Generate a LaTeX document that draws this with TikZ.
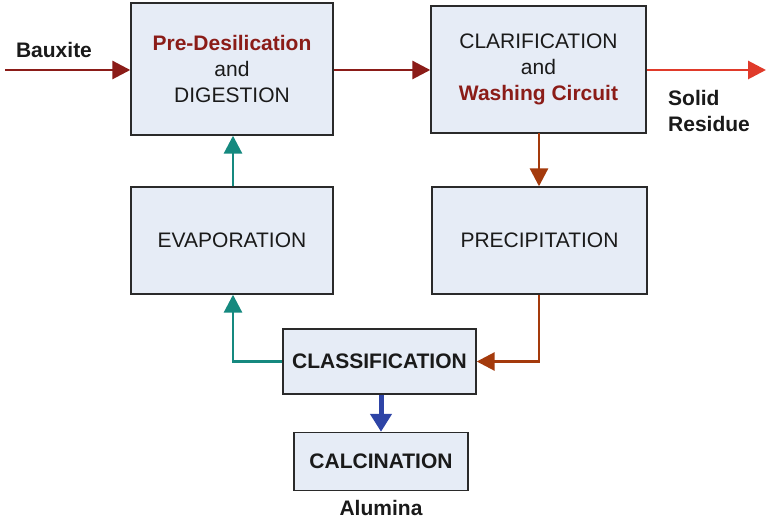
\documentclass[tikz,border=0pt]{standalone}
\usepackage{fontspec}
\setmainfont{Liberation Sans}
\usetikzlibrary{arrows.meta}

\definecolor{boxfill}{HTML}{E6ECF6}
\definecolor{boxline}{HTML}{2A2A2A}
\definecolor{txt}{HTML}{1A1A1A}
\definecolor{darkred}{HTML}{8B1C18}
\definecolor{brightred}{HTML}{E03A2A}
\definecolor{teal}{HTML}{15897F}
\definecolor{rust}{HTML}{A43A0C}
\definecolor{royal}{HTML}{2E44A6}

\tikzset{
  stage/.style={draw=boxline, line width=1.4pt, fill=boxfill, rectangle,
    inner sep=0pt, align=center, text=txt,
    font=\fontsize{21}{26}\selectfont},
  label/.style={text=txt, align=left, inner sep=0pt,
    font=\fontsize{21}{26}\selectfont\bfseries},
  flow/.style={line width=2.9pt, -{Triangle[length=18pt,width=18pt]}}
}

\begin{document}
\begin{tikzpicture}[x=1pt, y=-1pt]
  \useasboundingbox (0,0) rectangle (766,521);

  % process stages
  \node[stage, minimum width=202pt, minimum height=132pt] (dig) at (232,69)
    {{\bfseries\color{darkred}Pre-Desilication}\\and\\DIGESTION};
  \node[stage, minimum width=215pt, minimum height=127pt] (clar) at (538.5,69.5)
    {CLARIFICATION\\and\\{\bfseries\color{darkred}Washing Circuit}};
  \node[stage, minimum width=202pt, minimum height=107pt] (evap) at (232,240.5)
    {EVAPORATION};
  \node[stage, minimum width=215pt, minimum height=107pt] (prec) at (539.5,240.5)
    {PRECIPITATION};
  \node[stage, minimum width=193pt, minimum height=65pt, font=\fontsize{21}{26}\selectfont\bfseries] (clas) at (379.5,361.5)
    {CLASSIFICATION};
  \node[stage, minimum width=174pt, minimum height=58pt, font=\fontsize{21}{26}\selectfont\bfseries] (calc) at (381,461.5)
    {CALCINATION};

  % inputs and outputs
  \node[label] (bauxite) at (54,50) {Bauxite};
  \node[label, anchor=west] (residue) at (668,111) {Solid\\Residue};
  \node[label] (alumina) at (381,508) {Alumina};
  \coordinate (feed) at (5,70);
  \coordinate (waste) at (766,70);

  % connectors
  \draw[flow, darkred] (feed) -- (dig.west |- feed);
  \draw[flow, darkred] (dig.east |- feed) -- (clar.west |- feed);
  \draw[flow, brightred] (clar.east |- feed) -- (waste);
  \draw[flow, rust] (539,133) -- (prec.north -| 539,0);
  \draw[flow, rust] (prec.south -| 539,0) |- (clas.east);
  \draw[flow, teal] (clas.west) -| (evap.south -| 233,0);
  \draw[flow, teal] (evap.north -| 233,0) -- (dig.south -| 233,0);
  \draw[royal, line width=5pt, -{Triangle[length=18pt,width=21pt]}] (clas.south -| calc.north) -- (calc.north);
\end{tikzpicture}
\end{document}
